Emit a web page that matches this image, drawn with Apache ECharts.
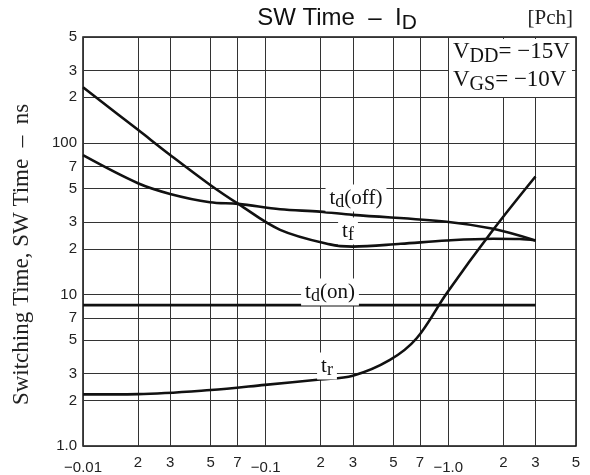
<!DOCTYPE html>
<html><head><meta charset="utf-8">
<script src="https://cdn.jsdelivr.net/npm/echarts@6/dist/echarts.min.js"></script>
<style>html,body{margin:0;padding:0;background:#fff}#c{width:590px;height:475px}</style>
</head><body><div id="c"></div>
<script>
// Drain current |ID| (A) tick positions and labels
const xTicks = [0.01,0.02,0.03,0.05,0.07,0.1,0.2,0.3,0.5,0.7,1,2,3,5];
const xTickLabels = ['−0.01','2','3','5','7','−0.1','2','3','5','7','−1.0','2','3','5'];
const yTicks = [1,2,3,5,7,10,20,30,50,70,100,200,300,500];
const yTickLabels = ['1.0','2','3','5','7','10','2','3','5','7','100','2','3','5'];

// Series: [|ID| (A), time (ns)]
const tf_x = [0.01, 0.02, 0.03, 0.0495, 0.0708, 0.12, 0.225, 0.30, 0.55, 0.98, 1.76, 2.46, 3];
const tf_y = [233, 122, 83.3, 53, 39.6, 26.7, 21.4, 20.7, 21.6, 22.7, 23.3, 23.2, 22.7];
const tdoff_x = [0.01, 0.02, 0.03, 0.0495, 0.0708, 0.12, 0.198, 0.30, 0.98, 1.76, 3];
const tdoff_y = [83, 54.2, 46.1, 40.6, 39.6, 36.5, 35.2, 33.5, 30.2, 27.1, 22.7];
const tdon_x = [0.01, 3];
const tdon_y = [8.5, 8.5];
const tr_x = [0.01, 0.02, 0.05, 0.099, 0.198, 0.30, 0.479, 0.671, 0.98, 1.76, 3];
const tr_y = [2.19, 2.2, 2.34, 2.53, 2.75, 2.91, 3.70, 5.14, 10.2, 26.7, 60];

const pair = (xs, ys) => xs.map((x, i) => [x, ys[i]]);
function nearestLabel(v, ticks, labels) {
  let best = 0, bd = Infinity;
  ticks.forEach((t, i) => { const d = Math.abs(Math.log10(v) - Math.log10(t)); if (d < bd) { bd = d; best = i; } });
  return labels[best];
}

const chart = echarts.init(document.getElementById('c'), null, {renderer: 'canvas'});
const serif = '"Liberation Serif", "DejaVu Serif", serif';
const sans = '"Liberation Sans", Arial, sans-serif';
const lineStyle = {color: '#111', width: 2.6};
const labRich = {
  b: {fontFamily: serif, fontSize: 21, fill: '#111'},
  s: {fontFamily: serif, fontSize: 18, fill: '#111', padding: [9, 0, 0, 0]}
};
const boxRich = {
  b: {fontFamily: serif, fontSize: 23, fill: '#111'},
  s: {fontFamily: serif, fontSize: 20, fill: '#111', padding: [10, 0, 0, 0]}
};

chart.setOption({
  animation: false,
  backgroundColor: '#fff',
  grid: {left: 83, right: 14, top: 37, bottom: 29, show: true, borderColor: '#111', borderWidth: 1.5, backgroundColor: 'transparent', outerBoundsMode: 'none', containLabel: false},
  xAxis: {
    type: 'log', logBase: 10, min: 0.01, max: 5,
    axisLine: {show: false}, axisTick: {show: false, customValues: xTicks},
    axisLabel: {
      customValues: xTicks, color: '#222', fontFamily: sans, fontSize: 15, margin: 9,
      formatter: v => { const l = nearestLabel(v, xTicks, xTickLabels); return l.startsWith('−') ? '{d|' + l + '}' : l; },
      rich: {d: {fontFamily: sans, fontSize: 15, color: '#222', padding: [5, 0, 0, 0]}}
    },
    splitLine: {show: true, lineStyle: {color: ['#333'], width: 1}},
    minorTick: {show: false}
  },
  yAxis: {
    type: 'log', logBase: 10, min: 1, max: 500,
    axisLine: {show: false}, axisTick: {show: false, customValues: yTicks},
    axisLabel: {
      customValues: yTicks, color: '#222', fontFamily: sans, fontSize: 15, margin: 6,
      formatter: v => nearestLabel(v, yTicks, yTickLabels)
    },
    splitLine: {show: true, lineStyle: {color: ['#333'], width: 1}},
    name: 'Switching Time, SW Time  –  ns', nameLocation: 'middle', nameGap: 50, nameRotate: 90,
    nameTextStyle: {fontFamily: serif, fontSize: 23, color: '#222', padding: [0, 26, 0, 0]}
  },
  series: [
    {type: 'line', name: 'tf', data: pair(tf_x, tf_y), smooth: 0.35, symbol: 'none', lineStyle, z: 5},
    {type: 'line', name: 'td(off)', data: pair(tdoff_x, tdoff_y), smooth: 0.35, symbol: 'none', lineStyle, z: 5},
    {type: 'line', name: 'td(on)', data: pair(tdon_x, tdon_y), symbol: 'none', lineStyle, z: 5},
    {type: 'line', name: 'tr', data: pair(tr_x, tr_y), smooth: 0.35, symbol: 'none', lineStyle, z: 5}
  ],
  graphic: [
    {type: 'text', x: 337, y: 18, z: 20, style: {
      text: '{a|SW Time  –  I}{s|D}', align: 'center', verticalAlign: 'middle',
      rich: {a: {fontFamily: sans, fontSize: 24, fill: '#111'}, s: {fontFamily: sans, fontSize: 21, fill: '#111', padding: [11, 0, 0, 0]}}
    }},
    {type: 'text', x: 573, y: 18, z: 20, style: {text: '[Pch]', align: 'right', verticalAlign: 'middle', font: '21px ' + serif, fill: '#222'}},
    {type: 'rect', x: 449, y: 39, z: 15, shape: {width: 123, height: 58}, style: {fill: '#fff'}},
    {type: 'text', x: 453, y: 52, z: 20, style: {text: '{b|V}{s|DD}{b|= −15V}', align: 'left', verticalAlign: 'middle', rich: boxRich}},
    {type: 'text', x: 453, y: 80, z: 20, style: {text: '{b|V}{s|GS}{b|= −10V}', align: 'left', verticalAlign: 'middle', rich: boxRich}},
    {type: 'text', x: 356, y: 198, z: 20, style: {text: '{b|t}{s|d}{b|(off)}', align: 'center', verticalAlign: 'middle', backgroundColor: '#fff', padding: [0, 4], rich: labRich}},
    {type: 'text', x: 348, y: 231, z: 20, style: {text: '{b|t}{s|f}', align: 'center', verticalAlign: 'middle', backgroundColor: '#fff', padding: [0, 4], rich: labRich}},
    {type: 'text', x: 330, y: 292, z: 20, style: {text: '{b|t}{s|d}{b|(on)}', align: 'center', verticalAlign: 'middle', backgroundColor: '#fff', padding: [0, 4], rich: labRich}},
    {type: 'text', x: 327, y: 366, z: 20, style: {text: '{b|t}{s|r}', align: 'center', verticalAlign: 'middle', backgroundColor: '#fff', padding: [0, 4], rich: labRich}}
  ]
});
</script></body></html>
